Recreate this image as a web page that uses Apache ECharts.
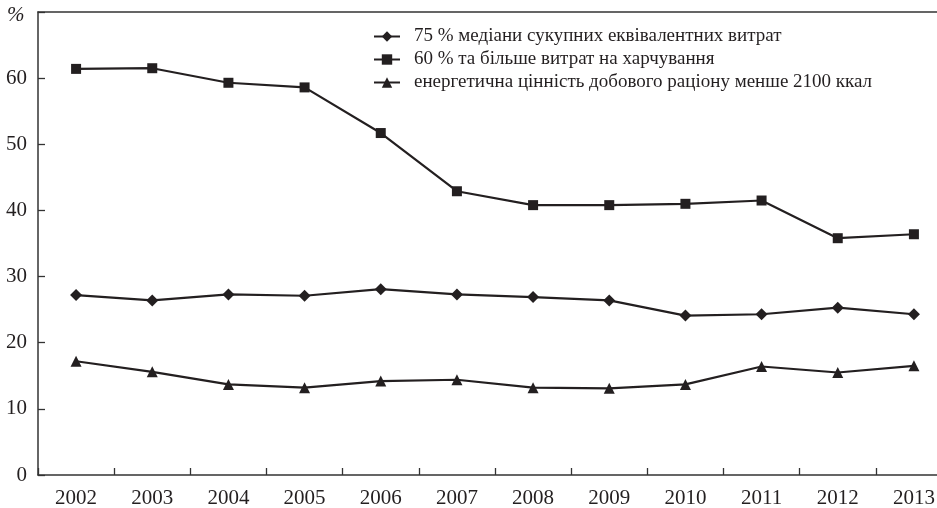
<!DOCTYPE html>
<html>
<head>
<meta charset="utf-8">
<script src="https://cdn.jsdelivr.net/npm/echarts@6/dist/echarts.min.js"></script>
<style>
  html, body { margin: 0; padding: 0; background: #fff; }
  #main { width: 937px; height: 508px; }
</style>
</head>
<body>
<div id="main"></div>
<script>
// роки
var years = ['2002', '2003', '2004', '2005', '2006', '2007', '2008', '2009', '2010', '2011', '2012', '2013'];

// 75 % медіани сукупних еквівалентних витрат
var median75 = [27.2, 26.4, 27.3, 27.1, 28.1, 27.3, 26.9, 26.4, 24.1, 24.3, 25.3, 24.3];
// 60 % та більше витрат на харчування
var food60 = [61.4, 61.5, 59.3, 58.6, 51.7, 42.9, 40.8, 40.8, 41.0, 41.5, 35.8, 36.4];
// енергетична цінність добового раціону менше 2100 ккал
var energy2100 = [17.2, 15.6, 13.7, 13.2, 14.2, 14.4, 13.2, 13.1, 13.7, 16.4, 15.5, 16.5];

var names = [
    '75 % медіани сукупних еквівалентних витрат',
    '60 % та більше витрат на харчування',
    'енергетична цінність добового раціону менше 2100 ккал'
];

var ink = '#231f20';
var font = '"Liberation Serif", "DejaVu Serif", serif';

var myChart = echarts.init(document.getElementById('main'));

function lineSeries(name, data, symbol, size) {
    return {
        name: name,
        type: 'line',
        data: data,
        symbol: symbol,
        symbolSize: size,
        showSymbol: true,
        lineStyle: { color: ink, width: 2.2 },
        itemStyle: { color: ink },
        emphasis: { disabled: true },
        animation: false
    };
}

myChart.setOption({
    backgroundColor: '#fff',
    textStyle: { fontFamily: font, color: ink },
    title: {
        text: '%',
        left: 2,
        top: 0,
        textStyle: { fontFamily: font, fontSize: 21, fontWeight: 'normal', fontStyle: 'italic', color: ink }
    },
    legend: {
        orient: 'vertical',
        left: 368,
        top: 22,
        itemWidth: 26,
        itemHeight: 13,
        itemGap: 4,
        textStyle: { fontFamily: font, fontSize: 19, color: ink, padding: [0, 0, 0, 9] },
        data: names
    },
    grid: {
        left: 38,
        top: 12,
        bottom: 33,
        right: -15,
        outerBoundsMode: 'none'
    },
    xAxis: [{
        type: 'category',
        data: years,
        boundaryGap: true,
        axisLine: { lineStyle: { color: '#333', width: 1.5 } },
        axisTick: { show: true, inside: true, length: 7, lineStyle: { color: '#333', width: 1.3 } },
        axisLabel: { fontFamily: font, fontSize: 21, color: ink, margin: 13 },
        splitLine: { show: false }
    }, {
        type: 'category',
        data: years,
        position: 'top',
        axisLine: { lineStyle: { color: '#333', width: 1.5 } },
        axisTick: { show: false },
        axisLabel: { show: false },
        splitLine: { show: false }
    }],
    yAxis: {
        type: 'value',
        min: 0,
        max: 70,
        interval: 10,
        axisLine: { show: true, lineStyle: { color: '#333', width: 1.5 } },
        axisTick: { show: true, inside: true, length: 7, lineStyle: { color: '#333', width: 1.3 } },
        axisLabel: {
            fontFamily: font, fontSize: 21, color: ink, margin: 11,
            formatter: function (v) { return v === 70 ? '' : v; }
        },
        splitLine: { show: false }
    },
    series: [
        lineSeries(names[0], median75, 'diamond', 12),
        lineSeries(names[1], food60, 'rect', 10),
        lineSeries(names[2], energy2100, 'triangle', 11)
    ]
});
</script>
</body>
</html>
